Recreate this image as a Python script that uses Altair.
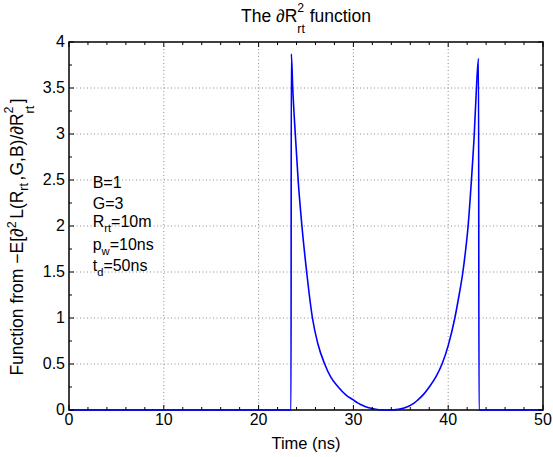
import altair as alt
import pandas as pd

# ---------------- data ----------------
time_ns = [0, 23.42, 23.45, 23.6, 23.87, 24.17, 24.57, 25.07, 25.35, 25.68, 26.25, 26.97,
           27.6, 28.4, 29.2, 29.98, 30.5, 31.0, 31.45, 31.9, 32.5, 33.0, 33.47, 34.0, 34.5,
           35.0, 35.5, 36.0, 36.4, 36.8, 37.4,
           38.0, 38.7, 39.35, 40.0, 40.7, 41.15, 41.55, 41.85, 42.1, 42.45, 42.75, 42.98,
           43.2, 43.25, 50]
func_vals = [0, 0, 3.87, 3.5, 3.0, 2.5, 2.0, 1.5, 1.25, 1.0, 0.72, 0.5,
             0.36, 0.25, 0.165, 0.11, 0.075, 0.048, 0.03, 0.018, 0.006, 0.001, 0.0, 0.001, 0.004,
             0.012, 0.027, 0.05, 0.075, 0.11, 0.17,
             0.25, 0.36, 0.5, 0.7, 1.0, 1.25, 1.5, 1.75, 2.0, 2.5, 3.0, 3.5,
             3.82, 0, 0]

x_major = [0, 10, 20, 30, 40, 50]
x_labels = ["0", "10", "20", "30", "40", "50"]
x_minor = [2, 4, 6, 8, 12, 14, 16, 18, 22, 24, 26, 28, 32, 34, 36, 38, 42, 44, 46, 48]
y_major = [0, 0.5, 1, 1.5, 2, 2.5, 3, 3.5, 4]
y_labels = ["0", "0.5", "1", "1.5", "2", "2.5", "3", "3.5", "4"]
y_minor = [0.25, 0.75, 1.25, 1.75, 2.25, 2.75, 3.25, 3.75]
x_grid = [10, 20, 30, 40]
y_grid = [0.5, 1, 1.5, 2, 2.5, 3, 3.5]

# ---------------- layout ----------------
W, H = 474, 368
PAD = {"left": 69, "top": 42, "right": 10, "bottom": 47}
FONT = "Liberation Sans"
FS = 16
BLUE = "#0000ff"
GRID = "#8c8c8c"

xs = alt.Scale(domain=[0, 50], nice=False, zero=False)
ys = alt.Scale(domain=[0, 4], nice=False, zero=False)

CW = {'F': .611, 'u': .556, 'n': .556, 'c': .5, 't': .278, 'i': .222, 'o': .556, ' ': .278,
      'f': .278, 'r': .333, 'm': .833, '\u2212': .584, 'E': .667, '[': .278, ']': .278,
      '\u2202': .494, 'L': .556, '(': .333, ')': .333, 'R': .722, ',': .278, 'G': .778,
      'B': .667, '/': .278, 'T': .611, 'h': .556, 'e': .556, '=': .584, 's': .5, 'p': .556,
      'w': .722, 'd': .556}


def tw(s, size):
    return sum(CW.get(c, 0.556) for c in s) * size


def rich(segs, size, ratio=0.7, gap=0.0):
    out, pos = [], 0.0
    small = size * ratio
    for seg in segs:
        kind = seg[0]
        if kind == "n":
            txt = seg[1]
            while txt.startswith(" "):
                pos += tw(" ", size)
                txt = txt[1:]
            out.append((txt, pos, 0.0, size)); pos += tw(txt, size)
        elif kind == "sup":
            out.append((seg[1], pos, 0.42 * size, small)); pos += tw(seg[1], small) + gap
        elif kind == "sub":
            out.append((seg[1], pos, -0.3 * size, small)); pos += tw(seg[1], small) + gap
        else:  # stacked sup + sub
            out.append((seg[1], pos, 0.55 * size, small))
            out.append((seg[2], pos, -0.6 * size, small))
            pos += max(tw(seg[1], small), tw(seg[2], small)) + gap
    return out, pos


def text_value(txt, x, y, size, angle=0):
    kw = dict(text=txt, font=FONT, fontSize=size, color="black", align="left",
              baseline="alphabetic")
    if angle:
        kw["angle"] = angle
    return alt.Chart().mark_text(**kw).encode(x=alt.value(x), y=alt.value(y))


layers = []

# grid
layers.append(alt.Chart(pd.DataFrame({"g": x_grid})).mark_rule(
    color=GRID, strokeDash=[1, 2.5], strokeWidth=1).encode(x=alt.X("g:Q", scale=xs, axis=None)))
layers.append(alt.Chart(pd.DataFrame({"g": y_grid})).mark_rule(
    color=GRID, strokeDash=[1, 2.5], strokeWidth=1).encode(y=alt.Y("g:Q", scale=ys, axis=None)))

# curve
curve_df = pd.DataFrame({"t": time_ns, "v": func_vals})
layers.append(alt.Chart(curve_df).mark_line(color=BLUE, strokeWidth=1.6, interpolate="monotone").encode(
    x=alt.X("t:Q", scale=xs, axis=None),
    y=alt.Y("v:Q", scale=ys, axis=None)))

# inward ticks
for vals, ln in ((x_major, 5), (x_minor, 3)):
    d = pd.DataFrame({"k": vals})
    layers.append(alt.Chart(d).mark_rule(color="black", strokeWidth=1).encode(
        x=alt.X("k:Q", scale=xs, axis=None), y=alt.value(H), y2=alt.value(H - ln)))
    layers.append(alt.Chart(d).mark_rule(color="black", strokeWidth=1).encode(
        x=alt.X("k:Q", scale=xs, axis=None), y=alt.value(0), y2=alt.value(ln)))
for vals, ln in ((y_major, 5), (y_minor, 3)):
    d = pd.DataFrame({"k": vals})
    layers.append(alt.Chart(d).mark_rule(color="black", strokeWidth=1).encode(
        y=alt.Y("k:Q", scale=ys, axis=None), x=alt.value(0), x2=alt.value(ln)))
    layers.append(alt.Chart(d).mark_rule(color="black", strokeWidth=1).encode(
        y=alt.Y("k:Q", scale=ys, axis=None), x=alt.value(W), x2=alt.value(W - ln)))

# tick labels
layers.append(alt.Chart(pd.DataFrame({"k": x_major, "lab": x_labels})).mark_text(
    font=FONT, fontSize=FS, color="black", align="center", baseline="top").encode(
    x=alt.X("k:Q", scale=xs, axis=None), y=alt.value(H + 2), text="lab:N"))
layers.append(alt.Chart(pd.DataFrame({"k": y_major, "lab": y_labels})).mark_text(
    font=FONT, fontSize=FS, color="black", align="right", baseline="middle").encode(
    y=alt.Y("k:Q", scale=ys, axis=None), x=alt.value(-4), text="lab:N"))

# title
TFS = 17.5
pieces, total = rich([("n", "The \u2202R"), ("ss", "2", "rt"), ("n", " function")], TFS)
bx, by = (306 - PAD["left"]) - total / 2, 22 - PAD["top"]
for txt, a, p, s in pieces:
    layers.append(text_value(txt, bx + a, by - p, s))

# x title
layers.append(alt.Chart().mark_text(text="Time (ns)", font=FONT, fontSize=16.5, color="black",
                                    align="center", baseline="alphabetic").encode(
    x=alt.value(W / 2), y=alt.value(449 - PAD["top"])))

# y title (rotated)
YFS = 17.5
pieces, total = rich([("n", "Function from \u2212E[\u2202"), ("sup", "2"), ("n", "L(R"), ("sub", "rt"),
                      ("n", ",G,B)/\u2202R"), ("ss", "2", "rt"), ("n", "]")], YFS, ratio=0.72, gap=2.5)
bx, by = 23 - PAD["left"], (237 - PAD["top"]) + total / 2
for txt, a, p, s in pieces:
    layers.append(text_value(txt, bx - p, by - a, s, angle=270))

# annotation block
ann_x = 2.5
ann_lines = [
    (2.41, [("n", "B=1")]),
    (2.19, [("n", "G=3")]),
    (1.99, [("n", "R"), ("sub", "rt"), ("n", "=10m")]),
    (1.74, [("n", "p"), ("sub", "w"), ("n", "=10ns")]),
    (1.51, [("n", "t"), ("sub", "d"), ("n", "=50ns")]),
]
for yv, segs in ann_lines:
    pieces, _ = rich(segs, FS)
    for txt, a, p, s in pieces:
        layers.append(alt.Chart().mark_text(text=txt, font=FONT, fontSize=s, color="black",
                                            align="left", baseline="alphabetic", dx=a, dy=-p).encode(
            x=alt.datum(ann_x), y=alt.datum(yv)))

chart = alt.layer(*layers).properties(
    width=W, height=H, padding=PAD, autosize=alt.AutoSizeParams(type="none"),
    background="white"
).configure_view(stroke="black", strokeWidth=1.5)

chart.save("out.html", embed_options={"renderer": "svg", "actions": False})
